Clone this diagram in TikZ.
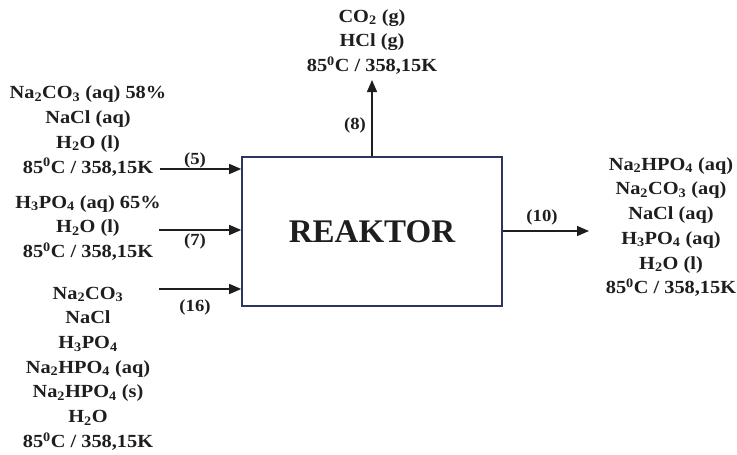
\documentclass[tikz,border=0pt]{standalone}
\usepackage{fontspec}
\setmainfont{Liberation Serif}
\newfontfamily\widefont[FakeStretch=1.1]{Liberation Serif}
\usetikzlibrary{arrows.meta}
\definecolor{boxblue}{RGB}{44,52,96}
\definecolor{ink}{RGB}{30,30,30}
\newcommand{\dg}{\textsuperscript{0}}
\newcommand{\sbs}[1]{\textsubscript{#1}}
\begin{document}
\begin{tikzpicture}[x=1pt,y=-1pt,
  lbl/.style={align=center,text=ink,font=\widefont\bfseries\fontsize{18.5}{24.7}\selectfont,inner sep=0pt},
  num/.style={text=ink,font=\widefont\bfseries\fontsize{17}{20}\selectfont,inner sep=0pt},
  flow/.style={draw=ink,line width=1.4pt,-{Triangle[length=12pt,width=10pt]}},
  reactor/.style={draw=boxblue,line width=1.6pt,fill=white,minimum width=260pt,minimum height=149pt,inner sep=0pt,
    font=\bfseries\fontsize{33}{36}\selectfont,text=ink}]
\useasboundingbox (0,0) rectangle (737,455);
\node[reactor] (R) at (372,231.5) {REAKTOR};
% feed 5
\node[lbl] (t5) at (88,131) {Na\sbs{2}CO\sbs{3} (aq) 58\%\\NaCl (aq)\\H\sbs{2}O (l)\\85\dg C / 358,15K};
\coordinate (s5) at (160,169);
\draw[flow] (s5) -- (s5 -| R.west);
\node[num] (n5) at (195,160) {(5)};
% feed 7
\node[lbl] (t7) at (88,228) {H\sbs{3}PO\sbs{4} (aq) 65\%\\H\sbs{2}O (l)\\85\dg C / 358,15K};
\coordinate (s7) at (159,230);
\draw[flow] (s7) -- (s7 -| R.west);
\node[num] (n7) at (195,241) {(7)};
% feed 16
\node[lbl] (t16) at (88,368.5) {Na\sbs{2}CO\sbs{3}\\NaCl\\H\sbs{3}PO\sbs{4}\\Na\sbs{2}HPO\sbs{4} (aq)\\Na\sbs{2}HPO\sbs{4} (s)\\H\sbs{2}O\\85\dg C / 358,15K};
\coordinate (s16) at (159,289);
\draw[flow] (s16) -- (s16 -| R.west);
\node[num] (n16) at (195,307) {(16)};
% top 8
\node[lbl] (t8) at (372,42) {CO\sbs{2} (g)\\HCl (g)\\85\dg C / 358,15K};
\coordinate (e8) at (372,80);
\draw[flow] (R.north) -- (e8);
\node[num] (n8) at (355,125) {(8)};
% out 10
\node[lbl] (t10) at (671,227) {Na\sbs{2}HPO\sbs{4} (aq)\\Na\sbs{2}CO\sbs{3} (aq)\\NaCl (aq)\\H\sbs{3}PO\sbs{4} (aq)\\H\sbs{2}O (l)\\85\dg C / 358,15K};
\coordinate (e10) at (589,231);
\draw[flow] (R.east |- e10) -- (e10);
\node[num] (n10) at (542,217) {(10)};
\end{tikzpicture}
\end{document}
